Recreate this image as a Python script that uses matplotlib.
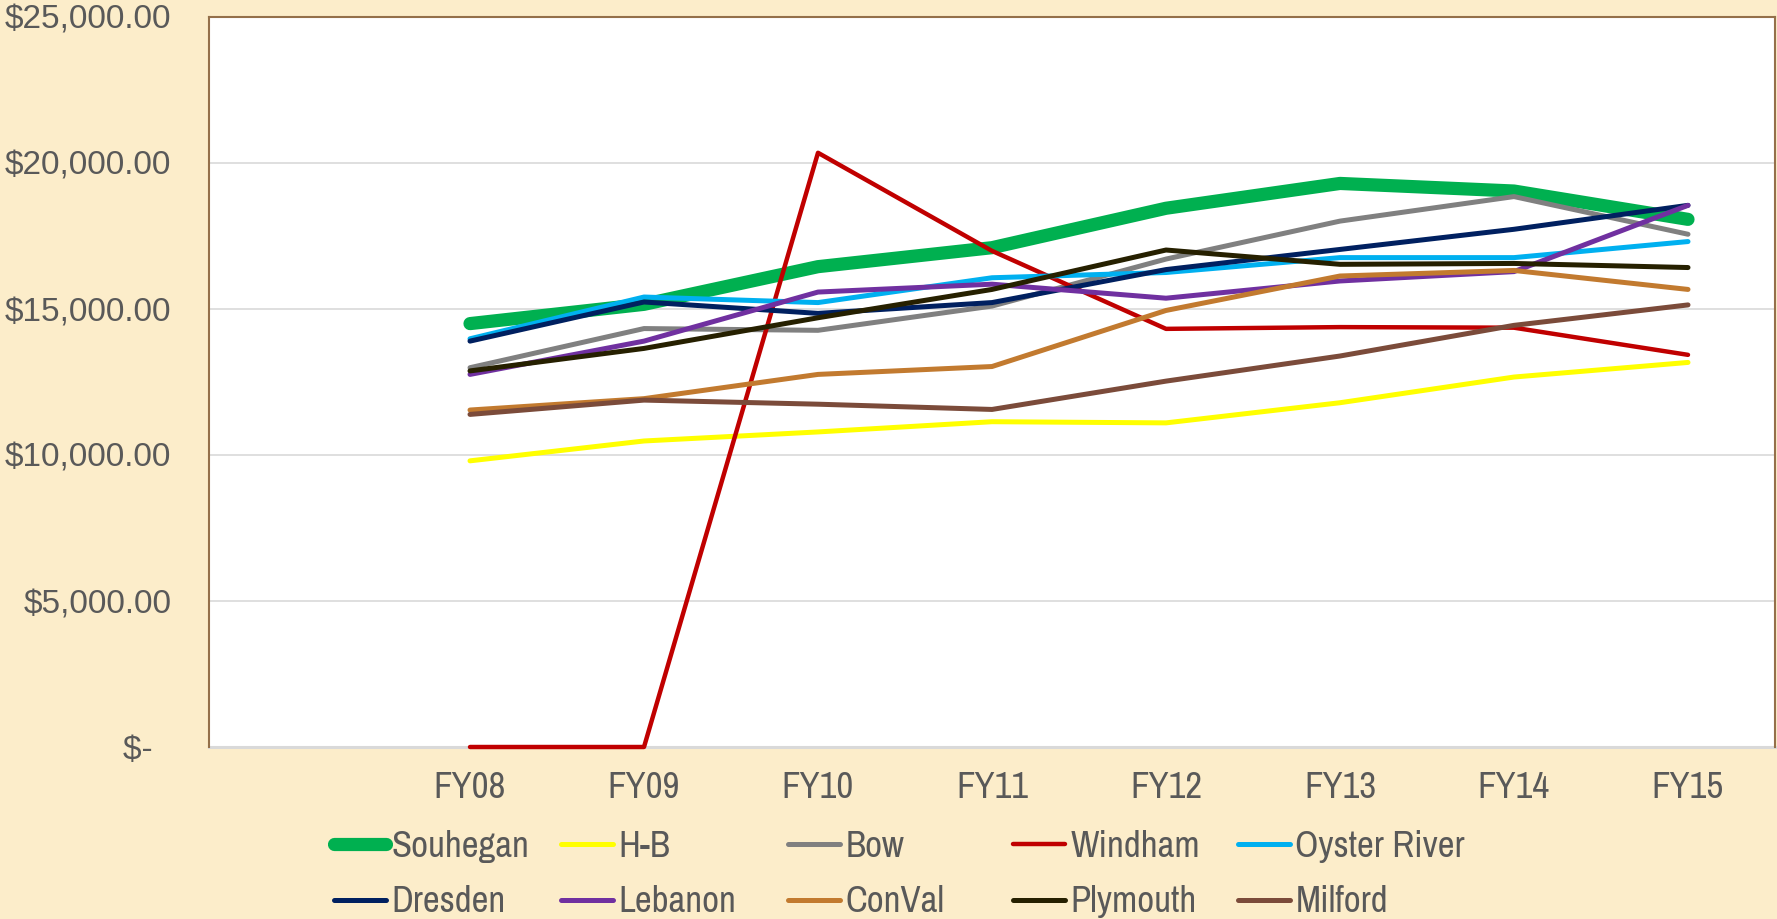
import matplotlib.pyplot as plt

############################
# data
############################
years = ["FY08", "FY09", "FY10", "FY11", "FY12", "FY13", "FY14", "FY15"]
souhegan = [14500, 15160, 16450, 17100, 18450, 19300, 19040, 18070]
hb = [9800, 10480, 10790, 11140, 11100, 11790, 12670, 13170]
bow = [12990, 14330, 14270, 15100, 16710, 18010, 18850, 17560]
windham = [0, 0, 20350, 16990, 14320, 14380, 14360, 13430]
oyster = [13980, 15410, 15220, 16070, 16250, 16760, 16760, 17310]
dresden = [13900, 15240, 14850, 15220, 16350, 17040, 17730, 18550]
lebanon = [12760, 13900, 15580, 15850, 15370, 15960, 16280, 18550]
conval = [11540, 11930, 12760, 13030, 14950, 16130, 16320, 15670]
plymouth = [12880, 13650, 14700, 15670, 17020, 16530, 16560, 16420]
milford = [11390, 11880, 11740, 11560, 12530, 13390, 14440, 15140]

names = ["Souhegan", "H-B", "Bow", "Windham", "Oyster River",
         "Dresden", "Lebanon", "ConVal", "Plymouth", "Milford"]
series = [souhegan, hb, bow, windham, oyster,
          dresden, lebanon, conval, plymouth, milford]
colors = ["#00B050", "#FFFF00", "#808080", "#C00000", "#00B0F0",
          "#002060", "#7030A0", "#C27A2F", "#262000", "#7B4B3A"]
widths = [9.5, 3.6, 3.6, 3.2, 3.6, 3.6, 3.6, 3.6, 3.6, 3.6]

yticks = [0, 5000, 10000, 15000, 20000, 25000]
ylabels = ["$-  ", "$5,000.00", "$10,000.00", "$15,000.00", "$20,000.00", "$25,000.00"]

bg = "#FCEDCA"
txt = "#595959"
narrow = ["Liberation Sans Narrow", "Archivo Narrow", "PT Sans Narrow", "DejaVu Sans"]
wide = ["Liberation Sans", "DejaVu Sans"]

fig = plt.figure(figsize=(17.77, 9.19), dpi=100, facecolor=bg)
ax = fig.add_axes([209/1777, 1 - 747/919, (1775 - 209)/1777, (747 - 17)/919])
ax.set_facecolor("white")

# first category is left empty, FY08 sits at position 1
xs = list(range(1, len(years) + 1))
handles = []
for name, vals, c, lw in zip(names, series, colors, widths):
    ln, = ax.plot(xs, vals, color=c, lw=lw, solid_capstyle="round",
                  solid_joinstyle="round", label=name, clip_on=False)
    handles.append(ln)

ax.set_xlim(-0.5, len(years) + 0.5)
ax.set_ylim(0, 25000)
ax.set_xticks(xs)
ax.set_xticklabels(years, fontsize=26.5, color=txt, family=narrow)
ax.set_yticks(yticks)
ax.set_yticklabels(ylabels, fontsize=24, color=txt, family=wide)
ax.tick_params(axis="x", length=0, pad=17)
ax.tick_params(axis="y", length=0, pad=27)
ax.grid(axis="y", color="#D9D9D9", lw=1.2)
ax.set_axisbelow(True)

for s in ["left", "top", "right"]:
    ax.spines[s].set_color("#94704A")
    ax.spines[s].set_linewidth(1.5)
ax.spines["bottom"].set_color("#D9D9D9")
ax.spines["bottom"].set_linewidth(2.2)
ax.spines["bottom"].set_zorder(0.5)

# legend: five columns, two rows, equal column widths like excel
col_x = [334, 561, 788, 1013, 1238]
for i, x in enumerate(col_x):
    hs = [handles[i], handles[i + 5]]
    lg = fig.legend(hs, [h.get_label() for h in hs], loc="center left",
                    bbox_to_anchor=(x/1777, 1 - 874/919), frameon=False,
                    borderpad=0, borderaxespad=0, handlelength=1.42,
                    handletextpad=0.14, labelspacing=0.62,
                    prop={"family": narrow, "size": 26.5})
    for t in lg.get_texts():
        t.set_color(txt)

fig.savefig("out.png", dpi=100, facecolor=bg)
